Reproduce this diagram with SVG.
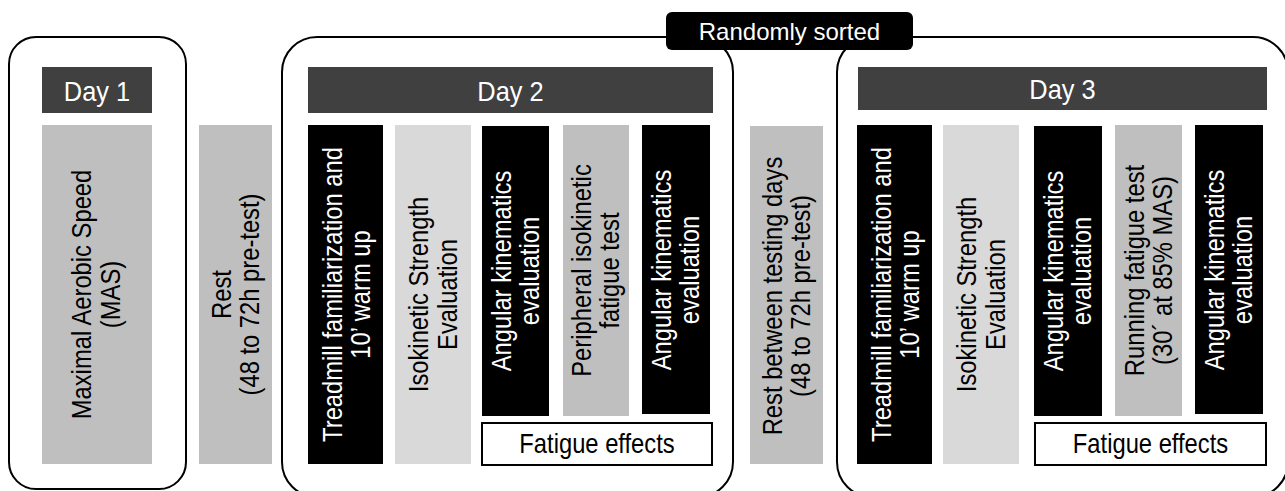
<svg xmlns="http://www.w3.org/2000/svg" width="1285" height="491" viewBox="0 0 1285 491">
<style>
  text { font-family: "Liberation Sans", Arial, sans-serif; }
  .frame { fill: none; stroke: #000; stroke-width: 2; }
  .hdr { fill: #404040; }
  .hdrt { fill: #fff; font-size: 27px; text-anchor: middle; }
  .blk { fill: #000; }
  .mid { fill: #bfbfbf; }
  .lite { fill: #d9d9d9; }
  .wt { fill: #fff; font-size: 27px; text-anchor: middle; }
  .bt { fill: #000; font-size: 27px; text-anchor: middle; }
  .tagt { fill: #fff; font-size: 24px; text-anchor: middle; }
  .fat { fill: #fff; stroke: #000; stroke-width: 2; }
  .tag { fill: #000; }
</style>
<rect width="1285" height="491" fill="#fff"/>
<g id="frames">
  <rect id="day1-frame" class="frame" x="9" y="37" width="177" height="452" rx="27"/>
  <rect id="day2-frame" class="frame" x="282" y="37" width="451" height="460" rx="35"/>
  <rect id="day3-frame" class="frame" x="837" y="37" width="451" height="460" rx="35"/>
</g>
<g id="connectors"/>
<g id="day1-header">
  <rect class="hdr" x="42" y="67" width="110" height="46"/>
  <text class="hdrt" transform="translate(97,101) scale(0.94,1)">Day 1</text>
</g>
<g id="mas">
  <rect class="mid" x="42" y="125" width="110" height="339"/>
  <g transform="translate(97,294.5) rotate(-90) scale(0.88,1)">
    <text class="bt" x="0" y="-6">Maximal Aerobic Speed</text>
    <text class="bt" x="0" y="23">(MAS)</text>
  </g>
</g>
<g id="rest1">
  <rect class="mid" x="199" y="125" width="73" height="339"/>
  <g transform="translate(235.5,294.5) rotate(-90) scale(0.88,1)">
    <text class="bt" x="0" y="-5">Rest</text>
    <text class="bt" x="0" y="23">(48 to 72h pre-test)</text>
  </g>
</g>
<g id="day2-header">
  <rect class="hdr" x="308" y="67" width="405" height="46"/>
  <text class="hdrt" transform="translate(510.5,101) scale(0.94,1)">Day 2</text>
</g>
<g id="treadmill2">
  <rect class="blk" x="308" y="125" width="75" height="339"/>
  <g transform="translate(345.5,294.5) rotate(-90) scale(0.88,1)">
    <text class="wt" x="0" y="-4">Treadmill familiarization and</text>
    <text class="wt" x="0" y="24">10’ warm up</text>
  </g>
</g>
<g id="iso2">
  <rect class="lite" x="395" y="125" width="76" height="339"/>
  <g transform="translate(433,294.5) rotate(-90) scale(0.88,1)">
    <text class="bt" x="0" y="-5">Isokinetic Strength</text>
    <text class="bt" x="0" y="24">Evaluation</text>
  </g>
</g>
<g id="angular2a">
  <rect class="blk" x="482" y="126" width="67" height="290"/>
  <g transform="translate(515.5,271) rotate(-90) scale(0.88,1)">
    <text class="wt" x="0" y="-5">Angular kinematics</text>
    <text class="wt" x="0" y="23">evaluation</text>
  </g>
</g>
<g id="peripheral">
  <rect class="mid" x="563" y="125" width="66" height="291"/>
  <g transform="translate(596,270.5) rotate(-90) scale(0.88,1)">
    <text class="bt" x="0" y="-5">Peripheral isokinetic</text>
    <text class="bt" x="0" y="23">fatigue test</text>
  </g>
</g>
<g id="angular2b">
  <rect class="blk" x="642" y="125" width="68" height="289"/>
  <g transform="translate(676,270) rotate(-90) scale(0.88,1)">
    <text class="wt" x="0" y="-5">Angular kinematics</text>
    <text class="wt" x="0" y="23">evaluation</text>
  </g>
</g>
<g id="fatigue2">
  <rect class="fat" x="482" y="423" width="230" height="42"/>
  <text class="bt" transform="translate(597,453) scale(0.88,1)">Fatigue effects</text>
</g>
<g id="rest2">
  <rect class="mid" x="750" y="126" width="73" height="338"/>
  <g transform="translate(786.5,296) rotate(-90) scale(0.88,1)">
    <text class="bt" x="0" y="-5">Rest between testing days</text>
    <text class="bt" x="0" y="23">(48 to 72h pre-test)</text>
  </g>
</g>
<g id="day3-header">
  <rect class="hdr" x="858" y="67" width="409" height="43"/>
  <text class="hdrt" transform="translate(1062.5,99) scale(0.94,1)">Day 3</text>
</g>
<g id="treadmill3">
  <rect class="blk" x="857" y="125" width="75" height="339"/>
  <g transform="translate(894.5,294.5) rotate(-90) scale(0.88,1)">
    <text class="wt" x="0" y="-4">Treadmill familiarization and</text>
    <text class="wt" x="0" y="24">10’ warm up</text>
  </g>
</g>
<g id="iso3">
  <rect class="lite" x="943" y="125" width="76" height="339"/>
  <g transform="translate(981,294.5) rotate(-90) scale(0.88,1)">
    <text class="bt" x="0" y="-5">Isokinetic Strength</text>
    <text class="bt" x="0" y="24">Evaluation</text>
  </g>
</g>
<g id="angular3a">
  <rect class="blk" x="1034" y="126" width="68" height="290"/>
  <g transform="translate(1068,271) rotate(-90) scale(0.88,1)">
    <text class="wt" x="0" y="-5">Angular kinematics</text>
    <text class="wt" x="0" y="23">evaluation</text>
  </g>
</g>
<g id="running">
  <rect class="mid" x="1115" y="125" width="67" height="291"/>
  <g transform="translate(1148.5,270.5) rotate(-90) scale(0.88,1)">
    <text class="bt" x="0" y="-5">Running fatigue test</text>
    <text class="bt" x="0" y="23">(30´ at 85% MAS)</text>
  </g>
</g>
<g id="angular3b">
  <rect class="blk" x="1195" y="125" width="68" height="289"/>
  <g transform="translate(1229,270) rotate(-90) scale(0.88,1)">
    <text class="wt" x="0" y="-5">Angular kinematics</text>
    <text class="wt" x="0" y="23">evaluation</text>
  </g>
</g>
<g id="fatigue3">
  <rect class="fat" x="1035" y="423" width="231" height="42"/>
  <text class="bt" transform="translate(1150.5,453) scale(0.88,1)">Fatigue effects</text>
</g>
<g id="randomly-sorted">
  <rect class="tag" x="666" y="12" width="247" height="38" rx="6"/>
  <text class="tagt" x="789.5" y="40">Randomly sorted</text>
</g>
</svg>
